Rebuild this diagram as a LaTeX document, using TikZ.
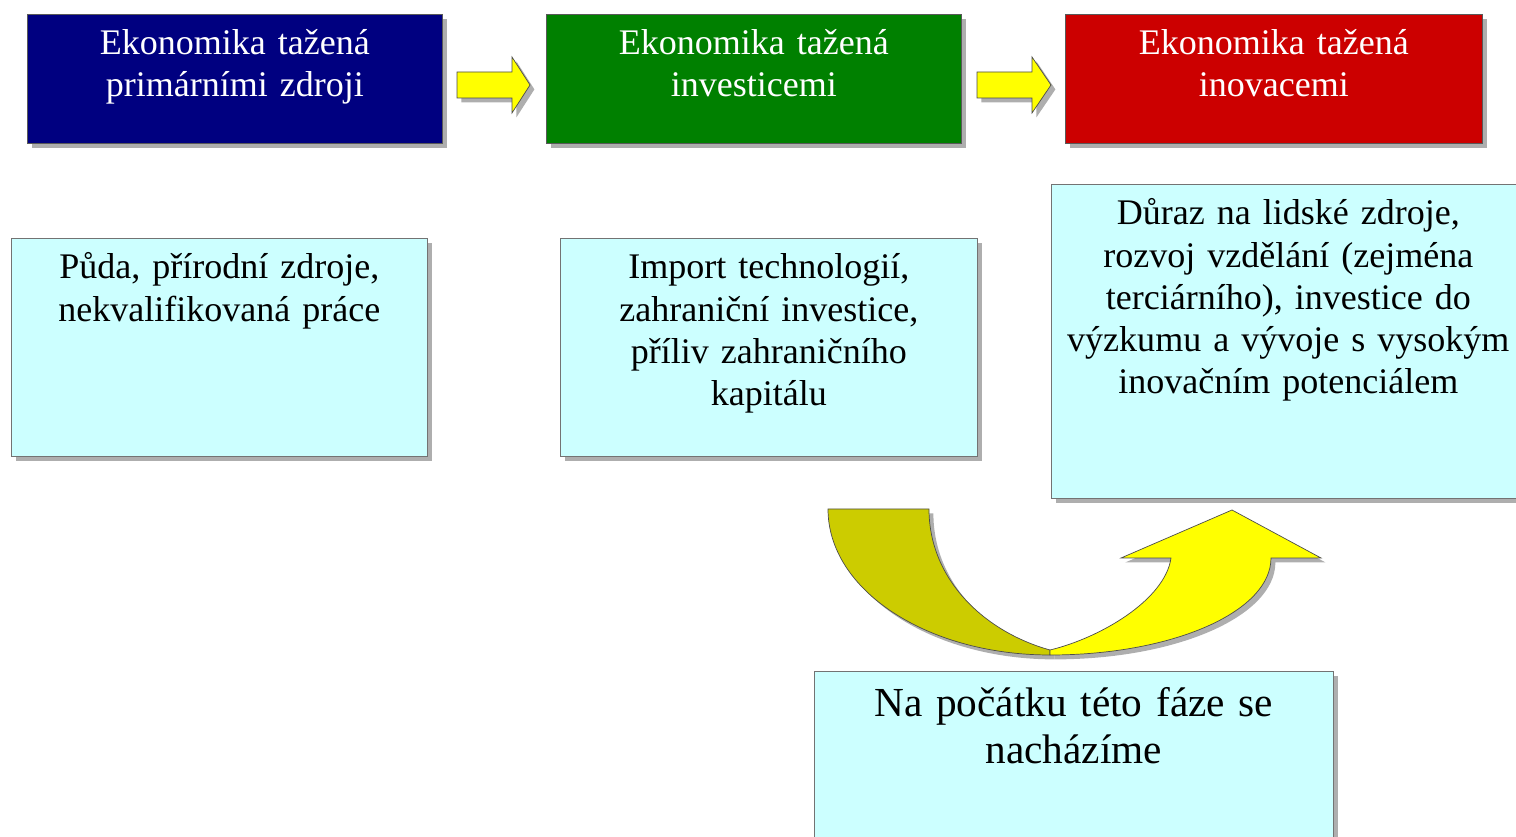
\documentclass[tikz,border=0pt]{standalone}
\usepackage{fontspec}
\setmainfont{Liberation Serif}
\usetikzlibrary{shadows}

\definecolor{phaseblue}{RGB}{0,0,128}
\definecolor{phasegreen}{RGB}{0,128,0}
\definecolor{phasered}{RGB}{204,0,0}
\definecolor{notecyan}{RGB}{204,255,255}
\definecolor{arrowolive}{RGB}{204,204,0}
\definecolor{arrowyellow}{RGB}{255,255,0}

\tikzset{
    boxshadow/.style={drop shadow={shadow xshift=2.5pt, shadow yshift=-2.5pt, fill=black!45, opacity=0.7}},
    phase/.style={draw=black!65, text=white, anchor=north west, inner sep=0pt, align=center,
        font=\fontsize{20.5}{24}\selectfont, text width=8.3cm, text height=0.8cm, text depth=1.78cm, boxshadow},
    note/.style={draw=black!55, fill=notecyan, anchor=north west, inner sep=0pt, align=center,
        font=\fontsize{20.5}{24}\selectfont, text height=0.81cm, boxshadow},
    blockarrow/.style={draw=black!70, line join=miter, boxshadow},
}

\begin{document}
\begin{tikzpicture}[x=0.02cm, y=-0.02cm]
    \useasboundingbox (0,0) rectangle (1516,837);

    % phases
    \node[phase, fill=phaseblue] (primary) at (27,14) {Ekonomika tažená\\primárními zdroji};
    \node[phase, fill=phasegreen] (invest) at (546,14) {Ekonomika tažená\\investicemi};
    \node[phase, fill=phasered, text width=8.34cm] (innov) at (1065,14) {Ekonomika tažená\\inovacemi};

    \draw[blockarrow, fill=arrowyellow] (457,72) -- (512,72) -- (512,57) -- (530,85) -- (512,113) -- (512,98) -- (457,98) -- cycle;
    \draw[blockarrow, fill=arrowyellow] (977,72) -- (1032,72) -- (1032,57) -- (1051,85) -- (1032,113) -- (1032,98) -- (977,98) -- cycle;

    % descriptions
    \node[note, text width=8.32cm, text depth=3.55cm] (primaryNote) at (11,238) {Půda, přírodní zdroje,\\nekvalifikovaná práce};
    \node[note, text width=8.34cm, text depth=3.55cm] (investNote) at (560,238) {Import technologií,\\zahraniční investice,\\příliv zahraničního\\kapitálu};
    \node[note, text width=9.48cm, text depth=5.47cm] (innovNote) at (1051,184) {Důraz na lidské zdroje,\\rozvoj vzdělání (zejména\\terciárního), investice do\\výzkumu a vývoje s vysokým\\inovačním potenciálem};

    % curved arrow
    \draw[blockarrow, fill=arrowolive] (828,509) -- (929,509) .. controls (929,580) and (985,632) .. (1050,650)
        -- (1050,655) .. controls (927,655) and (828,590) .. (828,509) -- cycle;
    \draw[blockarrow, fill=arrowyellow] (1050,650) .. controls (1100,638) and (1165,600) .. (1171,558)
        -- (1121,558) -- (1232,510) -- (1321,558) -- (1271,558)
        .. controls (1271,612) and (1172,655) .. (1050,655) -- cycle;

    \node[note, font=\fontsize{23.5}{27}\selectfont, text width=10.38cm, text height=0.9cm, text depth=3.48cm] (now) at (814,671) {Na počátku této fáze se\\nacházíme};
\end{tikzpicture}
\end{document}
